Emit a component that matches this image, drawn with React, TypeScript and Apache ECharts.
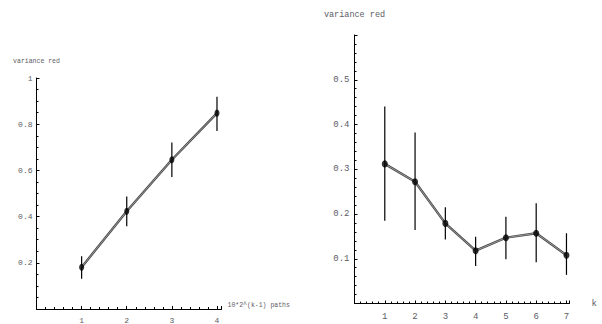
import React, { useEffect, useRef } from "react";
import * as echarts from "echarts";

// Left panel: variance reduction vs number of paths (10*2^(k-1))
const leftX = [1, 2, 3, 4];
const leftMean = [0.181, 0.423, 0.646, 0.848];
const leftLow = [0.131, 0.358, 0.571, 0.771];
const leftHigh = [0.228, 0.487, 0.721, 0.919];

// Right panel: variance reduction vs k
const rightX = [1, 2, 3, 4, 5, 6, 7];
const rightMean = [0.312, 0.272, 0.179, 0.118, 0.147, 0.157, 0.108];
const rightLow = [0.185, 0.164, 0.143, 0.084, 0.099, 0.092, 0.064];
const rightHigh = [0.44, 0.382, 0.215, 0.149, 0.194, 0.224, 0.157];

const leftYTicks = ["0.2", "0.4", "0.6", "0.8", "1"];
const rightYTicks = ["0.1", "0.2", "0.3", "0.4", "0.5"];

const FONT = "Liberation Mono";
const TXT = "#5c5c66";

function errRender(params: any, api: any) {
  const x = api.value(0);
  const p1 = api.coord([x, api.value(1)]);
  const p2 = api.coord([x, api.value(2)]);
  return {
    type: "line",
    shape: { x1: p1[0], y1: p1[1], x2: p2[0], y2: p2[1] },
    style: { stroke: "#000", lineWidth: 1.2 },
  };
}

function fmtY(ticks: string[]) {
  return (v: number) => {
    const s = String(Math.round(v * 100) / 100);
    return ticks.indexOf(s) >= 0 ? s : "";
  };
}

function fmtX(xs: number[]) {
  return (v: number) => (xs.indexOf(v) >= 0 ? String(v) : "");
}

export default function App() {
  const ref = useRef<HTMLDivElement>(null);
  useEffect(() => {
    const chart = echarts.init(ref.current!, undefined, { renderer: "svg" });
    const axisCommon = {
      axisLine: { show: true, onZero: false, lineStyle: { color: "#000", width: 1 } },
      axisTick: { show: true, inside: true, length: 3, lineStyle: { color: "#000" } },
      minorTick: { show: true, length: 2, lineStyle: { color: "#000" } },
      splitLine: { show: false },
    };
    const leftPts = leftX.map((x, i) => [x, leftMean[i]]);
    const rightPts = rightX.map((x, i) => [x, rightMean[i]]);
    chart.setOption({
      animation: false,
      backgroundColor: "#fff",
      grid: [
        { left: 36.5, top: 78, width: 185, height: 231.5 },
        { left: 354.5, top: 35, width: 215, height: 268.5 },
      ],
      xAxis: [
        {
          gridIndex: 0,
          type: "value",
          min: 0,
          max: 4.1,
          interval: 1,
          ...axisCommon,
          minorTick: { ...axisCommon.minorTick, splitNumber: 5 },
          axisLabel: {
            formatter: fmtX(leftX),
            margin: 7,
            fontFamily: FONT,
            fontSize: 8,
            color: TXT,
            showMaxLabel: false,
          },
          name: "10*2^(k-1) paths",
          nameLocation: "end",
          nameGap: 6,
          nameTextStyle: { fontFamily: FONT, fontSize: 6.5, color: TXT, align: "left", verticalAlign: "bottom" },
        },
        {
          gridIndex: 1,
          type: "value",
          min: 0,
          max: 7.1,
          interval: 1,
          ...axisCommon,
          minorTick: { ...axisCommon.minorTick, splitNumber: 5 },
          axisLabel: {
            formatter: fmtX(rightX),
            margin: 9,
            fontFamily: FONT,
            fontSize: 9,
            color: TXT,
            showMaxLabel: false,
          },
          name: "k",
          nameLocation: "end",
          nameGap: 22,
          nameTextStyle: { fontFamily: FONT, fontSize: 9, color: TXT, align: "left", verticalAlign: "middle" },
        },
      ],
      yAxis: [
        {
          gridIndex: 0,
          type: "value",
          min: 0,
          max: 1,
          interval: 0.2,
          ...axisCommon,
          minorTick: { ...axisCommon.minorTick, splitNumber: 4 },
          axisLabel: {
            formatter: fmtY(leftYTicks),
            margin: 4,
            fontFamily: FONT,
            fontSize: 8,
            color: TXT,
          },
          name: "variance red",
          nameLocation: "end",
          nameGap: 13,
          nameTextStyle: { fontFamily: FONT, fontSize: 6.5, color: TXT, align: "center" },
        },
        {
          gridIndex: 1,
          type: "value",
          min: 0,
          max: 0.6,
          interval: 0.1,
          ...axisCommon,
          minorTick: { ...axisCommon.minorTick, splitNumber: 5 },
          axisLabel: {
            formatter: fmtY(rightYTicks),
            margin: 5,
            fontFamily: FONT,
            fontSize: 9,
            color: TXT,
          },
          name: "variance red",
          nameLocation: "end",
          nameGap: 16,
          nameTextStyle: { fontFamily: FONT, fontSize: 8.5, color: TXT, align: "center" },
        },
      ],
      series: [
        {
          type: "custom",
          xAxisIndex: 0,
          yAxisIndex: 0,
          renderItem: errRender,
          data: leftX.map((x, i) => [x, leftLow[i], leftHigh[i]]),
          z: 1,
        },
        {
          type: "line",
          xAxisIndex: 0,
          yAxisIndex: 0,
          data: leftPts,
          showSymbol: false,
          lineStyle: { color: "#4a4a4a", width: 2.4 },
          z: 2,
        },
        {
          type: "line",
          xAxisIndex: 0,
          yAxisIndex: 0,
          data: leftPts,
          showSymbol: false,
          lineStyle: { color: "#a0a0a0", width: 0.9 },
          z: 3,
        },
        {
          type: "scatter",
          xAxisIndex: 0,
          yAxisIndex: 0,
          data: leftPts,
          symbol: "circle",
          symbolSize: [5, 7],
          itemStyle: { color: "#000" },
          z: 4,
        },
        {
          type: "custom",
          xAxisIndex: 1,
          yAxisIndex: 1,
          renderItem: errRender,
          data: rightX.map((x, i) => [x, rightLow[i], rightHigh[i]]),
          z: 1,
        },
        {
          type: "line",
          xAxisIndex: 1,
          yAxisIndex: 1,
          data: rightPts,
          showSymbol: false,
          lineStyle: { color: "#4a4a4a", width: 2.4 },
          z: 2,
        },
        {
          type: "line",
          xAxisIndex: 1,
          yAxisIndex: 1,
          data: rightPts,
          showSymbol: false,
          lineStyle: { color: "#a0a0a0", width: 0.9 },
          z: 3,
        },
        {
          type: "scatter",
          xAxisIndex: 1,
          yAxisIndex: 1,
          data: rightPts,
          symbol: "circle",
          symbolSize: [6, 7],
          itemStyle: { color: "#000" },
          z: 4,
        },
      ],
    });
    return () => chart.dispose();
  }, []);
  return (
    <div
      ref={ref}
      style={{ position: "fixed", left: 0, top: 0, width: 602, height: 324 }}
    />
  );
}
